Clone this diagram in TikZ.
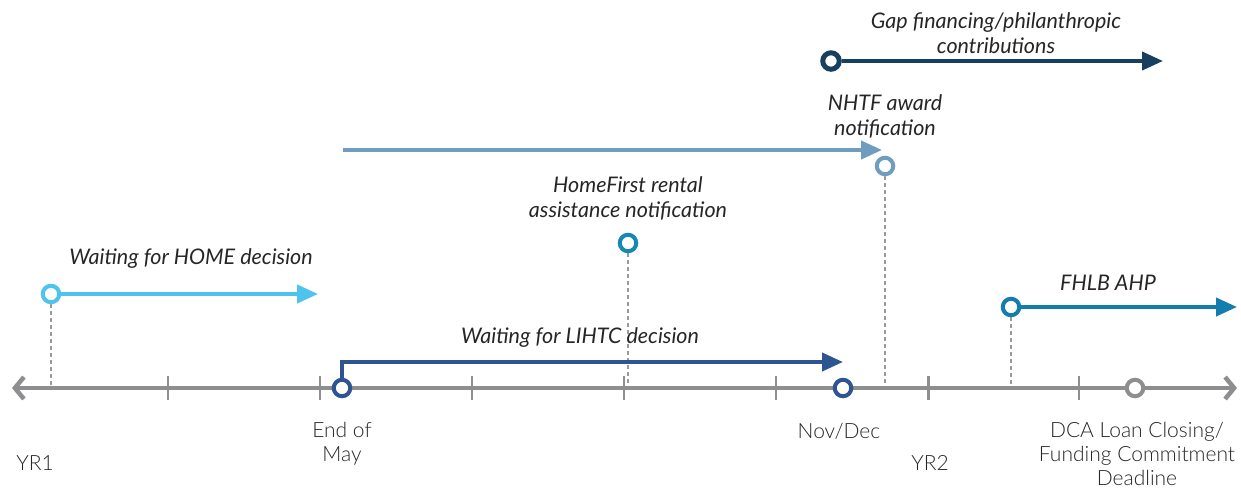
\documentclass[tikz,border=0pt]{standalone}
\usepackage{fontspec}
\setmainfont{Lato}
\newfontfamily\lightface{Lato Light}
\usetikzlibrary{arrows.meta}

\definecolor{axisgray}{HTML}{8E8E90}
\definecolor{guidegray}{HTML}{9A9A9A}
\definecolor{homeblue}{HTML}{4FC3F0}
\definecolor{lihtcblue}{HTML}{2C5592}
\definecolor{nhtfblue}{HTML}{6E9DC0}
\definecolor{hfteal}{HTML}{1589B4}
\definecolor{fhlbteal}{HTML}{137DAE}
\definecolor{gapnavy}{HTML}{173F5F}
\definecolor{labelink}{HTML}{262626}

\begin{document}
\begin{tikzpicture}[x=1pt, y=-1pt,
  ring/.style={circle, draw, fill=white, line width=4pt, minimum size=16.5pt, inner sep=0pt},
  flow/.style={line width=4pt, -{Triangle[length=21pt,width=18pt]}},
  guide/.style={draw=guidegray, line width=1.3pt, dash pattern=on 4pt off 3pt},
  tickmark/.style={draw=axisgray, line width=2pt},
  timeaxis/.style={draw=axisgray, line width=4.5pt,
    {Straight Barb[length=9pt,width=22pt]}-{Straight Barb[length=9pt,width=22pt]}},
  phase/.style={font=\fontsize{21.5}{25}\selectfont\itshape, text=labelink, align=center, inner sep=0pt},
  datelabel/.style={font=\lightface\fontsize{21}{24}\selectfont, text=labelink, align=center, inner sep=0pt}]
\useasboundingbox (0,0) rectangle (1241,488);

% milestones above the axis
\node[ring, draw=homeblue] (home) at (51,294) {};
\node[ring, draw=hfteal] (homefirst) at (628,243) {};
\node[ring, draw=nhtfblue] (nhtf) at (885,166) {};
\node[ring, draw=fhlbteal] (fhlb) at (1011,307) {};
\node[ring, draw=gapnavy, line width=5pt] (gap) at (831,61) {};

% dashed drops to the axis
\coordinate (homeFoot) at (51,388);
\coordinate (hfFoot) at (628,388);
\coordinate (nhtfFoot) at (885,388);
\coordinate (fhlbFoot) at (1011,388);
\draw[guide] (home) -- (homeFoot);
\draw[guide] (homefirst) -- (hfFoot);
\draw[guide] (nhtf) -- (nhtfFoot);
\draw[guide] (fhlb) -- (fhlbFoot);

% time axis with month ticks
\coordinate (axL) at (12,388);
\coordinate (axR) at (1237,388);
\draw[timeaxis] (axL) -- (axR);
\foreach \x in {168,320,472,624,776,1079}
  \draw[tickmark] (\x,376) -- (\x,400);
\draw[tickmark, line width=3pt] (928,376) -- (928,400);

% milestones on the axis
\node[ring, draw=lihtcblue] (may) at (342,388) {};
\node[ring, draw=lihtcblue] (novdec) at (843,388) {};
\node[ring, draw=axisgray] (dca) at (1135,388) {};

% waiting periods
\coordinate (homeEnd) at (318,294);
\draw[flow, homeblue] (home) -- (homeEnd);
\coordinate (lihtcEnd) at (843,362);
\draw[flow, lihtcblue] (may.north) |- (lihtcEnd);
\coordinate (nhtfStart) at (343,150);
\coordinate (nhtfEnd) at (882,150);
\draw[flow, nhtfblue] (nhtfStart) -- (nhtfEnd);
\coordinate (gapEnd) at (1163,61);
\draw[flow, gapnavy] (gap) -- (gapEnd);
\coordinate (fhlbEnd) at (1237,307);
\draw[flow, fhlbteal] (fhlb) -- (fhlbEnd);

% phase labels
\node[phase] (lblHome) at (191,259) {Waiting for HOME decision};
\node[phase] (lblLihtc) at (580,338) {Waiting for LIHTC decision};
\node[phase] (lblHf) at (628,198.5) {HomeFirst rental\\assistance notification};
\node[phase] (lblNhtf) at (885,116) {NHTF award\\notification};
\node[phase] (lblGap) at (996,33.5) {Gap financing/philanthropic\\contributions};
\node[phase] (lblFhlb) at (1108,283) {FHLB AHP};

% date labels
\node[datelabel] (lblYr1) at (35,463) {YR1};
\node[datelabel] (lblMay) at (342,444) {End of\\May};
\node[datelabel] (lblNov) at (839,431) {Nov/Dec};
\node[datelabel] (lblYr2) at (930,463) {YR2};
\node[datelabel] (lblDca) at (1137,454) {DCA Loan Closing/\\Funding Commitment\\Deadline};
\end{tikzpicture}
\end{document}
